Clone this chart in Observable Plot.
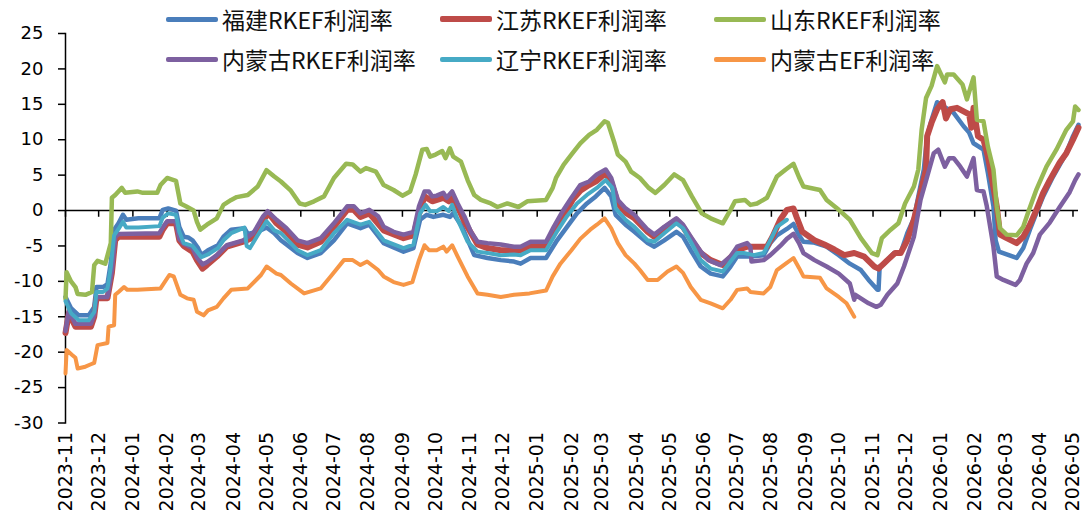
<!DOCTYPE html>
<html><head><meta charset="utf-8">
<script src="https://cdn.jsdelivr.net/npm/d3@7"></script>
<script src="https://cdn.jsdelivr.net/npm/@observablehq/plot@0.6"></script>
<style>
body{margin:0;background:#fff;}
#wrap{position:relative;width:1084px;height:520px;overflow:hidden;}
#legend{position:absolute;left:0;top:0;width:1084px;height:84px;font-family:"Noto Sans CJK SC",sans-serif;font-size:23px;color:#111;pointer-events:none;}
.item{position:absolute;display:flex;align-items:center;height:32px;line-height:32px;white-space:nowrap;}
.sw{width:52px;height:5px;margin-right:4px;border-radius:2px;}
</style></head>
<body><div id="wrap"><div id="chart"></div><div id="legend"></div></div>
<script>
// ---- data ----
const fujian = [["2023-11-01",-12.2],["2023-11-06",-13.8],["2023-11-13",-14.8],["2023-11-22",-14.8],["2023-11-27",-13.6],["2023-11-29",-10.8],["2023-12-05",-10.8],["2023-12-09",-10.4],["2023-12-12",-7.4],["2023-12-15",-2.7],["2023-12-19",-1.8],["2023-12-23",-0.6],["2023-12-26",-1.3],["2024-01-06",-1.1],["2024-01-25",-1.1],["2024-01-28",0.1],["2024-02-02",0.3],["2024-02-09",0.0],["2024-02-12",-2.3],["2024-02-16",-3.7],["2024-02-20",-3.8],["2024-02-24",-4.2],["2024-02-29",-5.3],["2024-03-03",-6.3],["2024-03-09",-5.6],["2024-03-18",-4.9],["2024-03-23",-3.7],["2024-03-30",-2.7],["2024-04-11",-2.5],["2024-04-14",-3.3],["2024-04-23",-3.0],["2024-05-01",-2.4],["2024-05-08",-3.2],["2024-05-14",-4.2],["2024-05-29",-6.0],["2024-06-07",-6.7],["2024-06-19",-6.0],["2024-07-01",-4.2],["2024-07-13",-1.8],["2024-07-25",-2.5],["2024-08-02",-2.0],["2024-08-15",-4.6],["2024-09-02",-5.8],["2024-09-11",-5.3],["2024-09-17",-1.3],["2024-09-23",-0.6],["2024-09-29",-0.9],["2024-10-08",-0.6],["2024-10-14",-0.9],["2024-10-17",-0.4],["2024-10-25",-2.3],["2024-11-05",-6.3],["2024-11-17",-6.7],["2024-11-29",-7.0],["2024-12-11",-7.2],["2024-12-17",-7.5],["2024-12-26",-6.7],["2025-01-09",-6.7],["2025-01-19",-4.2],["2025-01-28",-2.3],["2025-02-06",-0.4],["2025-02-15",1.0],["2025-02-23",2.0],["2025-03-03",3.2],["2025-03-09",2.0],["2025-03-13",-0.6],["2025-03-22",-2.0],["2025-03-30",-3.0],["2025-04-11",-4.6],["2025-04-17",-5.1],["2025-04-26",-4.2],["2025-05-07",-3.0],["2025-05-13",-3.7],["2025-05-20",-5.6],["2025-05-29",-7.9],["2025-06-07",-8.9],["2025-06-18",-9.3],["2025-06-25",-7.9],["2025-07-01",-6.5],["2025-07-13",-6.5],["2025-07-25",-6.3],["2025-07-31",-4.6],["2025-08-06",-3.5],["2025-08-15",-2.6],["2025-08-21",-1.9],["2025-08-26",-3.5],["2025-08-30",-4.4],["2025-09-08",-4.5],["2025-09-20",-5.1],["2025-10-01",-6.3],["2025-10-11",-7.5],["2025-10-21",-8.4],["2025-10-28",-9.8],["2025-11-05",-11.2],["2025-11-06",-11.2],["2025-11-07",-7.9],["2025-11-11",-7.5],["2025-11-20",-6.0],["2025-11-26",-6.0],["2025-12-02",-3.2],["2025-12-08",-1.1],["2025-12-12",2.0],["2025-12-17",5.8],["2025-12-20",10.5],["2025-12-24",12.8],["2025-12-29",15.3],["2026-01-06",14.5],["2026-01-13",13.8],["2026-01-22",11.9],["2026-01-27",11.0],["2026-01-31",9.5],["2026-02-09",8.6],["2026-02-13",5.3],["2026-02-18",0.6],["2026-02-20",-4.2],["2026-02-23",-5.8],["2026-03-02",-6.2],["2026-03-11",-6.7],["2026-03-17",-5.3],["2026-03-23",-2.7],["2026-03-29",-0.3],["2026-04-04",2.0],["2026-04-13",4.8],["2026-04-25",8.1],["2026-05-01",10.5],["2026-05-06",12.1]];

const jiangsu = [["2023-11-01",-17.3],["2023-11-04",-14.5],["2023-11-10",-16.4],["2023-11-24",-16.4],["2023-11-27",-15.0],["2023-11-29",-12.4],["2023-12-09",-12.4],["2023-12-13",-8.8],["2023-12-16",-4.2],["2023-12-19",-3.7],["2024-01-25",-3.7],["2024-01-28",-2.7],["2024-02-01",-1.8],["2024-02-09",-1.8],["2024-02-12",-4.2],["2024-02-16",-5.0],["2024-02-24",-5.8],["2024-02-28",-7.0],["2024-03-04",-8.2],["2024-03-08",-7.7],["2024-03-17",-6.5],["2024-03-26",-5.1],["2024-04-10",-4.4],["2024-04-19",-3.8],["2024-04-28",-1.3],["2024-05-03",-0.4],["2024-05-10",-1.8],["2024-05-19",-3.0],["2024-05-29",-4.8],["2024-06-07",-5.2],["2024-06-19",-4.4],["2024-07-01",-2.3],["2024-07-13",0.1],["2024-07-19",0.1],["2024-07-25",-0.9],["2024-08-02",-0.4],["2024-08-15",-2.8],["2024-09-02",-3.9],["2024-09-11",-3.5],["2024-09-16",-0.5],["2024-09-21",2.0],["2024-09-28",1.3],["2024-10-08",1.8],["2024-10-13",1.3],["2024-10-16",2.0],["2024-10-21",0.5],["2024-10-27",-1.5],["2024-11-08",-4.8],["2024-11-17",-5.3],["2024-11-29",-5.6],["2024-12-11",-5.6],["2024-12-17",-5.6],["2024-12-26",-5.0],["2025-01-09",-5.0],["2025-01-16",-2.7],["2025-01-24",-1.0],["2025-02-02",1.5],["2025-02-09",2.8],["2025-02-17",3.6],["2025-02-24",4.2],["2025-03-04",5.3],["2025-03-09",4.0],["2025-03-15",1.0],["2025-03-22",-0.3],["2025-03-30",-1.1],["2025-04-11",-3.0],["2025-04-17",-3.7],["2025-04-26",-2.5],["2025-05-07",-1.3],["2025-05-13",-2.3],["2025-05-20",-4.0],["2025-05-29",-6.0],["2025-06-07",-7.0],["2025-06-18",-7.7],["2025-06-25",-6.6],["2025-07-01",-5.6],["2025-07-10",-5.1],["2025-07-19",-5.1],["2025-07-28",-5.1],["2025-08-02",-3.7],["2025-08-09",-1.3],["2025-08-15",0.1],["2025-08-21",0.3],["2025-08-24",-1.0],["2025-08-29",-3.0],["2025-09-09",-4.2],["2025-09-18",-4.8],["2025-09-27",-5.5],["2025-10-06",-6.3],["2025-10-15",-6.0],["2025-10-24",-6.5],["2025-11-02",-7.9],["2025-11-06",-8.2],["2025-11-14",-7.0],["2025-11-21",-6.0],["2025-11-26",-6.0],["2025-12-02",-4.2],["2025-12-08",-1.3],["2025-12-14",2.5],["2025-12-19",5.8],["2025-12-20",10.5],["2025-12-24",12.4],["2025-12-29",14.3],["2026-01-03",15.3],["2026-01-06",13.0],["2026-01-10",14.3],["2026-01-16",14.5],["2026-01-22",14.0],["2026-01-27",13.6],["2026-01-29",11.7],["2026-01-31",14.5],["2026-02-04",10.5],["2026-02-09",10.0],["2026-02-13",7.6],["2026-02-21",0.6],["2026-02-24",-3.4],["2026-03-02",-3.9],["2026-03-11",-4.6],["2026-03-17",-3.7],["2026-03-23",-2.0],["2026-03-29",0.1],["2026-04-04",2.5],["2026-04-10",4.3],["2026-04-19",6.8],["2026-04-25",8.1],["2026-05-01",10.0],["2026-05-06",11.7]];

const shandong = [["2023-11-01",-12.5],["2023-11-02",-8.7],["2023-11-06",-10.0],["2023-11-10",-10.8],["2023-11-12",-11.8],["2023-11-19",-11.9],["2023-11-25",-11.5],["2023-11-27",-7.7],["2023-11-30",-7.1],["2023-12-07",-7.5],["2023-12-12",-4.6],["2023-12-13",1.8],["2023-12-16",2.2],["2023-12-22",3.2],["2023-12-25",2.5],["2024-01-05",2.7],["2024-01-10",2.5],["2024-01-23",2.5],["2024-01-26",3.6],["2024-02-01",4.6],["2024-02-09",4.2],["2024-02-13",1.0],["2024-02-18",0.6],["2024-02-25",0.0],["2024-02-28",-1.6],["2024-03-02",-2.7],["2024-03-08",-2.0],["2024-03-17",-1.1],["2024-03-23",0.8],["2024-03-30",1.5],["2024-04-04",1.9],["2024-04-14",2.2],["2024-04-23",3.4],["2024-05-01",5.7],["2024-05-08",4.8],["2024-05-14",4.1],["2024-05-23",2.8],["2024-05-31",1.0],["2024-06-05",0.8],["2024-06-13",1.3],["2024-06-22",2.0],["2024-07-01",4.6],["2024-07-12",6.6],["2024-07-18",6.5],["2024-07-25",5.5],["2024-07-30",6.0],["2024-08-08",5.5],["2024-08-15",3.6],["2024-08-24",2.9],["2024-09-01",2.1],["2024-09-08",2.7],["2024-09-13",5.1],["2024-09-19",8.6],["2024-09-23",8.7],["2024-09-26",7.6],["2024-10-01",7.9],["2024-10-07",8.4],["2024-10-10",7.4],["2024-10-14",8.8],["2024-10-17",7.6],["2024-10-24",6.9],["2024-10-30",4.3],["2024-11-05",2.2],["2024-11-11",1.5],["2024-11-20",1.0],["2024-11-26",0.5],["2024-12-05",1.0],["2024-12-15",0.5],["2024-12-23",1.3],["2025-01-09",1.5],["2025-01-15",3.2],["2025-01-18",4.6],["2025-01-25",6.5],["2025-02-02",8.1],["2025-02-09",9.5],["2025-02-17",10.7],["2025-02-24",11.4],["2025-03-03",12.6],["2025-03-06",12.4],["2025-03-12",9.5],["2025-03-15",7.9],["2025-03-22",6.9],["2025-03-27",5.5],["2025-04-04",4.6],["2025-04-12",3.2],["2025-04-18",2.5],["2025-04-26",3.6],["2025-05-05",5.1],["2025-05-13",4.3],["2025-05-21",2.0],["2025-05-30",-0.4],["2025-06-07",-1.1],["2025-06-18",-1.8],["2025-06-25",0.1],["2025-06-29",1.3],["2025-07-08",1.5],["2025-07-13",0.8],["2025-07-19",1.0],["2025-07-28",1.8],["2025-08-06",4.8],["2025-08-14",5.8],["2025-08-21",6.6],["2025-08-26",4.7],["2025-08-30",3.4],["2025-09-14",2.9],["2025-09-20",1.5],["2025-10-01",0.1],["2025-10-11",-1.3],["2025-10-21",-3.9],["2025-10-31",-6.0],["2025-11-05",-6.3],["2025-11-09",-3.9],["2025-11-17",-2.7],["2025-11-24",-1.8],["2025-11-30",1.0],["2025-12-08",3.4],["2025-12-12",5.8],["2025-12-15",11.4],["2025-12-19",15.9],["2025-12-24",17.6],["2025-12-29",20.4],["2026-01-05",18.1],["2026-01-07",19.2],["2026-01-13",19.2],["2026-01-21",17.8],["2026-01-25",15.7],["2026-01-31",18.8],["2026-02-03",12.8],["2026-02-09",12.6],["2026-02-13",9.0],["2026-02-18",5.8],["2026-02-21",0.6],["2026-02-24",-2.5],["2026-03-02",-3.4],["2026-03-11",-3.5],["2026-03-17",-2.3],["2026-03-22",0.0],["2026-03-29",3.0],["2026-04-07",6.2],["2026-04-16",8.6],["2026-04-25",11.4],["2026-05-01",12.6],["2026-05-03",14.7],["2026-05-06",14.2]];

const neimengRKEF = [["2023-11-01",-17.0],["2023-11-04",-14.2],["2023-11-10",-16.0],["2023-11-24",-16.0],["2023-11-27",-14.7],["2023-11-29",-12.2],["2023-12-09",-12.2],["2023-12-13",-8.5],["2023-12-16",-3.7],["2023-12-19",-3.3],["2024-01-25",-3.2],["2024-01-28",-2.4],["2024-02-01",-1.5],["2024-02-09",-1.5],["2024-02-12",-4.0],["2024-02-16",-4.7],["2024-02-24",-5.3],["2024-02-28",-6.6],["2024-03-04",-7.6],["2024-03-08",-7.3],["2024-03-17",-6.3],["2024-03-26",-4.9],["2024-04-10",-4.2],["2024-04-19",-3.2],["2024-04-28",-0.8],["2024-05-02",-0.1],["2024-05-10",-1.3],["2024-05-19",-2.5],["2024-05-29",-4.2],["2024-06-07",-4.6],["2024-06-19",-3.9],["2024-07-01",-1.8],["2024-07-13",0.6],["2024-07-19",0.6],["2024-07-25",-0.4],["2024-08-02",0.1],["2024-08-10",-0.8],["2024-08-15",-2.3],["2024-08-24",-3.0],["2024-09-02",-3.4],["2024-09-11",-3.0],["2024-09-16",0.6],["2024-09-21",2.7],["2024-09-25",2.7],["2024-09-28",2.0],["2024-10-02",2.1],["2024-10-08",2.5],["2024-10-11",1.8],["2024-10-16",2.7],["2024-10-21",1.0],["2024-10-27",-0.8],["2024-11-02",-3.0],["2024-11-08",-4.4],["2024-11-17",-4.6],["2024-11-29",-4.8],["2024-12-11",-5.1],["2024-12-17",-5.1],["2024-12-26",-4.4],["2025-01-09",-4.4],["2025-01-16",-2.3],["2025-01-24",-0.1],["2025-02-01",1.8],["2025-02-09",3.6],["2025-02-17",4.1],["2025-02-24",5.1],["2025-03-04",5.8],["2025-03-09",4.6],["2025-03-15",1.5],["2025-03-22",0.3],["2025-03-30",-0.6],["2025-04-04",-1.5],["2025-04-11",-2.7],["2025-04-17",-3.4],["2025-04-26",-2.3],["2025-05-07",-1.1],["2025-05-13",-2.0],["2025-05-20",-3.7],["2025-05-29",-5.8],["2025-06-05",-7.0],["2025-06-16",-7.7],["2025-06-25",-6.5],["2025-07-01",-5.1],["2025-07-10",-4.6],["2025-07-13",-5.1],["2025-07-14",-7.2],["2025-07-25",-7.0],["2025-07-31",-6.3],["2025-08-09",-5.0],["2025-08-15",-4.0],["2025-08-21",-3.3],["2025-08-26",-4.6],["2025-08-30",-6.0],["2025-09-09",-7.0],["2025-09-20",-7.9],["2025-10-01",-8.9],["2025-10-11",-10.3],["2025-10-15",-12.6],["2025-10-16",-11.9],["2025-10-28",-13.1],["2025-11-04",-13.6],["2025-11-08",-13.3],["2025-11-14",-11.9],["2025-11-23",-10.3],["2025-11-29",-7.9],["2025-12-08",-3.7],["2025-12-14",1.5],["2025-12-20",4.8],["2025-12-26",8.1],["2025-12-30",8.6],["2026-01-05",6.2],["2026-01-09",7.4],["2026-01-13",7.4],["2026-01-19",6.2],["2026-01-25",4.8],["2026-01-31",7.4],["2026-02-03",2.9],["2026-02-09",2.7],["2026-02-12",0.6],["2026-02-18",-5.1],["2026-02-21",-9.3],["2026-02-27",-9.8],["2026-03-10",-10.5],["2026-03-14",-9.8],["2026-03-20",-7.5],["2026-03-26",-6.0],["2026-04-01",-3.4],["2026-04-10",-1.7],["2026-04-19",0.5],["2026-04-28",2.6],["2026-05-03",4.3],["2026-05-06",5.1]];

const liaoning = [["2023-11-01",-12.8],["2023-11-06",-14.5],["2023-11-13",-15.5],["2023-11-22",-15.5],["2023-11-27",-14.3],["2023-11-29",-11.5],["2023-12-05",-11.5],["2023-12-09",-11.0],["2023-12-12",-8.0],["2023-12-15",-3.5],["2023-12-19",-2.6],["2023-12-23",-1.6],["2023-12-26",-2.4],["2024-01-06",-2.4],["2024-01-25",-2.2],["2024-01-28",-1.0],["2024-02-02",-0.4],["2024-02-09",-0.6],["2024-02-12",-3.0],["2024-02-16",-4.6],["2024-02-24",-5.0],["2024-02-29",-6.0],["2024-03-03",-6.6],["2024-03-09",-6.2],["2024-03-18",-5.3],["2024-03-23",-4.2],["2024-03-30",-3.2],["2024-04-11",-2.4],["2024-04-13",-5.0],["2024-04-16",-5.3],["2024-04-23",-3.5],["2024-05-01",-1.5],["2024-05-08",-2.8],["2024-05-14",-3.2],["2024-05-29",-5.6],["2024-06-07",-6.3],["2024-06-19",-5.6],["2024-07-01",-3.2],["2024-07-13",-1.3],["2024-07-25",-2.0],["2024-08-02",-1.6],["2024-08-15",-4.2],["2024-09-02",-5.3],["2024-09-11",-4.8],["2024-09-17",-0.4],["2024-09-22",0.8],["2024-09-26",-0.1],["2024-10-02",-0.1],["2024-10-08",0.5],["2024-10-13",-0.1],["2024-10-16",0.8],["2024-10-21",-1.3],["2024-10-30",-4.4],["2024-11-08",-5.8],["2024-11-17",-6.0],["2024-11-29",-6.3],["2024-12-11",-6.2],["2024-12-17",-6.3],["2024-12-26",-5.6],["2025-01-09",-5.6],["2025-01-18",-3.2],["2025-01-28",-0.8],["2025-02-06",1.0],["2025-02-15",2.2],["2025-02-24",3.2],["2025-03-04",4.3],["2025-03-10",3.2],["2025-03-13",0.3],["2025-03-22",-1.3],["2025-03-30",-2.3],["2025-04-11",-4.2],["2025-04-17",-4.4],["2025-04-26",-3.2],["2025-05-07",-1.8],["2025-05-13",-2.5],["2025-05-20",-4.4],["2025-05-29",-7.0],["2025-06-07",-8.2],["2025-06-18",-8.6],["2025-06-25",-7.2],["2025-07-01",-6.0],["2025-07-07",-6.0],["2025-07-16",-6.3],["2025-07-25",-6.0],["2025-07-31",-4.2],["2025-08-06",-2.3],["2025-08-15",-1.3]];

const neimengEF = [["2023-11-01",-23.0],["2023-11-02",-19.7],["2023-11-07",-20.4],["2023-11-10",-20.8],["2023-11-12",-22.3],["2023-11-18",-22.1],["2023-11-24",-21.7],["2023-11-27",-21.5],["2023-11-30",-19.0],["2023-12-09",-18.7],["2023-12-10",-16.4],["2023-12-15",-16.2],["2023-12-16",-11.9],["2023-12-19",-11.5],["2023-12-24",-10.8],["2023-12-27",-11.2],["2024-01-05",-11.2],["2024-01-26",-11.0],["2024-02-03",-9.1],["2024-02-07",-9.3],["2024-02-13",-11.9],["2024-02-19",-12.4],["2024-02-25",-12.6],["2024-02-28",-14.3],["2024-03-05",-14.8],["2024-03-09",-14.1],["2024-03-17",-13.6],["2024-03-23",-12.4],["2024-03-30",-11.2],["2024-04-14",-11.0],["2024-04-26",-9.1],["2024-05-01",-7.9],["2024-05-10",-8.9],["2024-05-14",-9.1],["2024-05-23",-10.3],["2024-06-04",-11.7],["2024-06-19",-11.0],["2024-06-28",-9.3],["2024-07-10",-7.0],["2024-07-18",-7.0],["2024-07-25",-7.7],["2024-07-31",-7.2],["2024-08-10",-8.4],["2024-08-15",-9.3],["2024-08-24",-10.1],["2024-09-02",-10.5],["2024-09-10",-10.1],["2024-09-16",-7.0],["2024-09-21",-4.9],["2024-09-25",-5.6],["2024-10-02",-5.6],["2024-10-08",-5.1],["2024-10-11",-5.8],["2024-10-16",-4.9],["2024-10-21",-6.5],["2024-10-30",-9.3],["2024-11-08",-11.7],["2024-11-17",-11.9],["2024-11-29",-12.2],["2024-12-11",-11.9],["2024-12-25",-11.7],["2025-01-09",-11.3],["2025-01-15",-9.3],["2025-01-22",-7.5],["2025-02-01",-5.6],["2025-02-09",-4.0],["2025-02-18",-2.7],["2025-02-24",-2.0],["2025-03-03",-1.1],["2025-03-09",-2.5],["2025-03-15",-4.6],["2025-03-22",-6.3],["2025-03-30",-7.5],["2025-04-04",-8.4],["2025-04-11",-9.8],["2025-04-20",-9.8],["2025-04-29",-8.6],["2025-05-07",-7.9],["2025-05-13",-8.8],["2025-05-20",-10.8],["2025-05-29",-12.6],["2025-06-07",-13.1],["2025-06-18",-13.8],["2025-06-25",-12.6],["2025-07-01",-11.2],["2025-07-10",-11.0],["2025-07-13",-11.5],["2025-07-25",-11.7],["2025-07-31",-10.8],["2025-08-06",-8.4],["2025-08-14",-7.5],["2025-08-21",-6.7],["2025-08-26",-8.1],["2025-08-30",-9.3],["2025-09-14",-9.5],["2025-09-20",-11.0],["2025-10-01",-12.2],["2025-10-08",-13.1],["2025-10-15",-15.0]];

const seriesNames = ["福建RKEF利润率","江苏RKEF利润率","山东RKEF利润率","内蒙古RKEF利润率","辽宁RKEF利润率","内蒙古EF利润率"];
const seriesValues = [fujian, jiangsu, shandong, neimengRKEF, liaoning, neimengEF];
const seriesColors = ["#4a7ebb","#be4b48","#98b954","#7d60a0","#46aac5","#f79646"];
const seriesWidths = [4.5, 6, 4.5, 4.5, 4, 4];
const legendOrder = [0,1,2,3,4,5];
const yTicks = [-30,-25,-20,-15,-10,-5,0,5,10,15,20,25];
const xStart = "2023-11-01", xEnd = "2026-05-06", lastTick = "2026-05-01";

// ---- build ----
const parse = d3.utcParse("%Y-%m-%d");
const rows = [];
seriesValues.forEach((vals, i) => vals.forEach(([d, v]) => rows.push({date: parse(d), value: v, name: seriesNames[i]})));
const monthTicks = d3.utcMonth.range(parse(xStart), d3.utcDay.offset(parse(lastTick), 1));

const chart = Plot.plot({
  width: 1084, height: 520,
  marginLeft: 65, marginRight: 6, marginTop: 33, marginBottom: 97.5,
  x: {type: "utc", domain: [parse(xStart), parse(xEnd)]},
  y: {domain: [-30, 25]},
  style: {fontFamily: "DejaVu Sans", fontSize: "18px", color: "#000", background: "#fff", overflow: "visible"},
  marks: [
    Plot.ruleY([0], {stroke: "#000", strokeWidth: 1.5}),
    Plot.ruleX(monthTicks, {y1: 0, y2: -0.95, stroke: "#000", strokeWidth: 1.5}),
    Plot.frame({anchor: "left", stroke: "#000", strokeWidth: 1.5}),
    Plot.axisY({ticks: yTicks, tickSize: 7, tickPadding: 15, tickFormat: d => String(d), label: null, fontSize: 18, strokeWidth: 1.5}),
    Plot.axisX({ticks: monthTicks, tickFormat: d3.utcFormat("%Y-%m"), tickRotate: -90, tickSize: 0, tickPadding: 9, label: null, fontSize: 19}),
    ...seriesNames.map((n, i) => Plot.line(rows.filter(r => r.name === n), {
      x: "date", y: "value", stroke: seriesColors[i], strokeWidth: seriesWidths[i],
      strokeLinejoin: "round", strokeLinecap: "round"
    }))
  ]
});
document.getElementById("chart").appendChild(chart);

// ---- legend ----
const legend = document.getElementById("legend");
const colLeft = [166, 440, 714];
const rowTop = [3, 43];
legendOrder.forEach((si, k) => {
  const it = document.createElement("div");
  it.className = "item";
  it.style.left = colLeft[k % 3] + "px";
  it.style.top = rowTop[Math.floor(k / 3)] + "px";
  const sw = document.createElement("span");
  sw.className = "sw";
  sw.style.background = seriesColors[si];
  sw.style.height = (si === 1 ? 6 : 5) + "px";
  const tx = document.createElement("span");
  tx.textContent = seriesNames[si];
  it.appendChild(sw); it.appendChild(tx);
  legend.appendChild(it);
});
</script>
</body></html>
